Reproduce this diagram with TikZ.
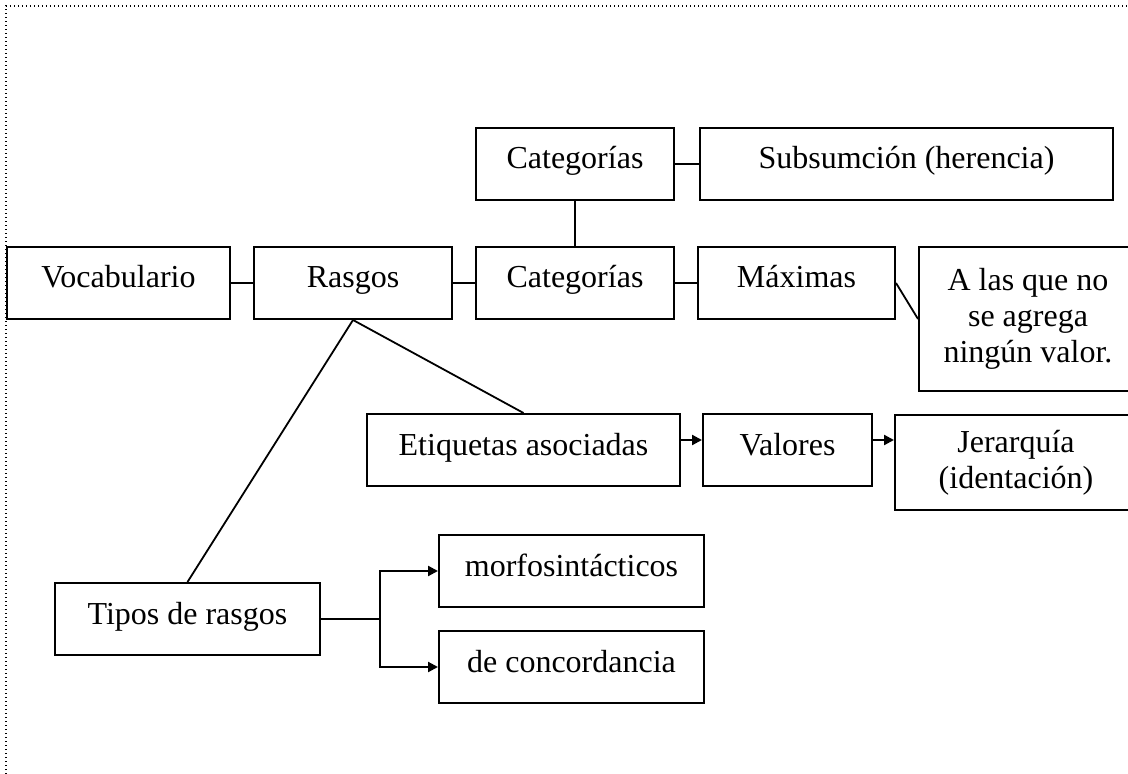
\documentclass[tikz,border=0pt]{standalone}
\usepackage{fontspec}
\setmainfont{Liberation Serif}
\usetikzlibrary{arrows.meta}
\begin{document}
\begin{tikzpicture}[x=0.5pt,y=-0.5pt,
  box/.style={draw,line width=1pt,inner sep=0pt,minimum height=36pt,
    font=\fontsize{16}{18}\selectfont,text height=11pt,text depth=6pt},
  mbox/.style={draw,line width=1pt,inner sep=0pt,align=center,
    font=\fontsize{16}{18}\selectfont},
  conn/.style={line width=0.9pt},
  arr/.style={line width=1.1pt,-{Triangle[length=5pt,width=5pt]}}]
\useasboundingbox (0,0) rectangle (1128,774);
\draw[line width=0.6pt,dash pattern=on 0.6pt off 1.4pt] (6,774) -- (6,6) -- (1128,6);
% top row
\node[box,minimum width=99pt] (cat1) at (575,164) {Categorías};
\node[box,minimum width=206.5pt] (sub) at (906.5,164) {Subsumción (herencia)};
% main row
\node[box,minimum width=111.5pt] (voc) at (118.5,283) {Vocabulario};
\node[box,minimum width=99pt] (ras) at (353,283) {Rasgos};
\node[box,minimum width=99pt] (cat2) at (575,283) {Categorías};
\node[box,minimum width=98.5pt] (max) at (796.5,283) {Máximas};
\node[mbox,minimum width=109pt,minimum height=72pt] (alas) at (1028,319) {A las que no\\se agrega\\ningún valor.};
% third row
\node[box,minimum width=156.5pt] (etq) at (523.5,450) {Etiquetas asociadas};
\node[box,minimum width=84.5pt] (val) at (787.5,450) {Valores};
\node[mbox,minimum width=121pt,minimum height=47.5pt] (jer) at (1016,462.5) {Jerarquía\\(identación)};
% bottom
\node[box,minimum width=132.5pt] (tip) at (187.5,619) {Tipos de rasgos};
\node[box,minimum width=132.5pt] (mor) at (571.5,571) {morfosintácticos};
\node[box,minimum width=132.5pt] (con) at (571.5,667) {de concordancia};
% connectors
\draw[conn] (voc.east) -- (ras.west);
\draw[conn] (ras.east) -- (cat2.west);
\draw[conn] (cat2.east) -- (max.west);
\draw[conn] (cat1.east) -- (sub.west);
\draw[conn] (cat1.south) -- (cat2.north);
\draw[conn] (max.east) -- (alas.west);
\draw[conn] (ras.south) -- (etq.north);
\draw[conn] (ras.south) -- (tip.north);
\draw[arr] ([yshift=5pt]etq.east) -- ([yshift=5pt]val.west);
\draw[arr] ([yshift=5pt]val.east) -- ([yshift=5pt]val.east -| jer.west);
\draw[arr] (tip.east) -- ++(59,0) |- (mor.west);
\draw[arr] (tip.east) -- ++(59,0) |- (con.west);
\end{tikzpicture}
\end{document}
